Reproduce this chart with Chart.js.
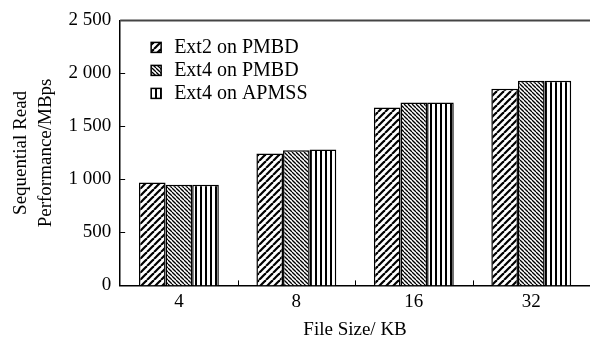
<!DOCTYPE html>
<html>
<head>
<meta charset="utf-8">
<script src="https://cdn.jsdelivr.net/npm/chart.js@4.4.1/dist/chart.umd.min.js"></script>
<style>
  html, body { margin: 0; padding: 0; background: #fff; }
  #wrap { width: 590px; height: 345px; }
</style>
</head>
<body>
<div id="wrap"><canvas id="perfChart" width="590" height="345"></canvas></div>
<script>
const fileSizes = ['4', '8', '16', '32'];
const seriesNames = ['Ext2 on PMBD', 'Ext4 on PMBD', 'Ext4 on APMSS'];
const ext2Pmbd = [970, 1244, 1678, 1856];
const ext4Pmbd = [950, 1275, 1725, 1931];
const ext4Apmss = [950, 1281, 1725, 1931];
const yTicks = [0, 500, 1000, 1500, 2000, 2500];

const FONT = '"Liberation Serif", "DejaVu Serif", serif';

// hatch patterns
function makePattern(size, draw) {
    const c = document.createElement('canvas');
    c.width = size; c.height = size;
    const g = c.getContext('2d');
    g.fillStyle = '#fff';
    g.fillRect(0, 0, size, size);
    g.strokeStyle = '#000';
    g.fillStyle = '#000';
    draw(g, size);
    return g.createPattern(c, 'repeat');
}
const ctx = document.getElementById('perfChart').getContext('2d');

const diagWide = makePattern(7, (g, s) => {
    g.lineWidth = 2.2;
    for (let o = -s; o <= s; o += s) {
        g.beginPath(); g.moveTo(o, s); g.lineTo(o + s, 0); g.stroke();
    }
});
const diagFine = makePattern(4, (g, s) => {
    g.lineWidth = 1.3;
    for (let o = -s; o <= s; o += s) {
        g.beginPath(); g.moveTo(o, 0); g.lineTo(o + s, s); g.stroke();
    }
});
const vertical = makePattern(5, (g, s) => {
    g.fillRect(0, 0, 2, s);
});
const fills = [diagWide, diagFine, vertical];
const seriesData = [ext2Pmbd, ext4Pmbd, ext4Apmss];

// inner ticks, top frame line and legend inside the plot
const framePlugin = {
    id: 'framePlugin',
    afterDraw(chart) {
        const c = chart.ctx, a = chart.chartArea;
        const x = chart.scales.x, y = chart.scales.y;
        c.save();
        c.strokeStyle = '#444';
        c.lineWidth = 2;
        c.beginPath(); c.moveTo(a.left, a.top); c.lineTo(a.right, a.top); c.stroke();
        c.strokeStyle = '#000';
        c.lineWidth = 1;
        yTicks.slice(1, -1).forEach(v => {
            const py = Math.round(y.getPixelForValue(v)) + 0.5;
            c.beginPath(); c.moveTo(a.left, py); c.lineTo(a.left + 5, py); c.stroke();
        });
        for (let i = 1; i < fileSizes.length; i++) {
            const px = Math.round((x.getPixelForValue(i - 1) + x.getPixelForValue(i)) / 2) + 0.5;
            c.beginPath(); c.moveTo(px, a.bottom); c.lineTo(px, a.bottom - 5); c.stroke();
        }
        // legend
        c.font = '20px ' + FONT;
        c.textBaseline = 'middle';
        seriesNames.forEach((name, i) => {
            const ly = a.top + 27 + i * 23;
            const bx = a.left + 31;
            c.fillStyle = fills[i];
            c.fillRect(bx, ly - 5, 10, 10);
            c.strokeStyle = '#000';
            c.lineWidth = 1.5;
            c.strokeRect(bx, ly - 5, 10, 10);
            c.fillStyle = '#000';
            c.fillText(name, a.left + 54, ly);
        });
        c.restore();
    }
};

const perfChart = new Chart(ctx, {
    type: 'bar',
    data: {
        labels: fileSizes,
        datasets: seriesNames.map((name, i) => ({
            label: name,
            data: seriesData[i],
            backgroundColor: fills[i],
            borderColor: '#000',
            borderWidth: 1.5,
            categoryPercentage: 0.68,
            barPercentage: 1
        }))
    },
    options: {
        responsive: false,
        animation: false,
        layout: { padding: { top: 16, right: 0, bottom: 4, left: 9 } },
        plugins: {
            legend: { display: false },
            tooltip: { enabled: false }
        },
        scales: {
            x: {
                grid: { display: false, drawTicks: false },
                border: { display: true, color: '#000', width: 1.5 },
                ticks: { color: '#000', font: { family: FONT, size: 19 }, padding: 5 },
                title: {
                    display: true,
                    text: 'File Size/ KB',
                    color: '#000',
                    font: { family: FONT, size: 19 },
                    padding: { top: 0, bottom: 0 }
                }
            },
            y: {
                min: 0,
                max: 2500,
                afterBuildTicks(scale) { scale.ticks = yTicks.map(v => ({ value: v })); },
                grid: { display: false, drawTicks: false },
                border: { display: true, color: '#000', width: 1.5 },
                ticks: {
                    color: '#000',
                    font: { family: FONT, size: 19 },
                    padding: 9,
                    callback: v => String(v).replace(/\B(?=(\d{3})+(?!\d))/g, ' ')
                },
                title: {
                    display: true,
                    text: ['Sequential Read', 'Performance/MBps'],
                    color: '#000',
                    font: { family: FONT, size: 19, lineHeight: 1.3 },
                    padding: { top: 0, bottom: 1 }
                }
            }
        }
    },
    plugins: [framePlugin]
});
</script>
</body>
</html>
